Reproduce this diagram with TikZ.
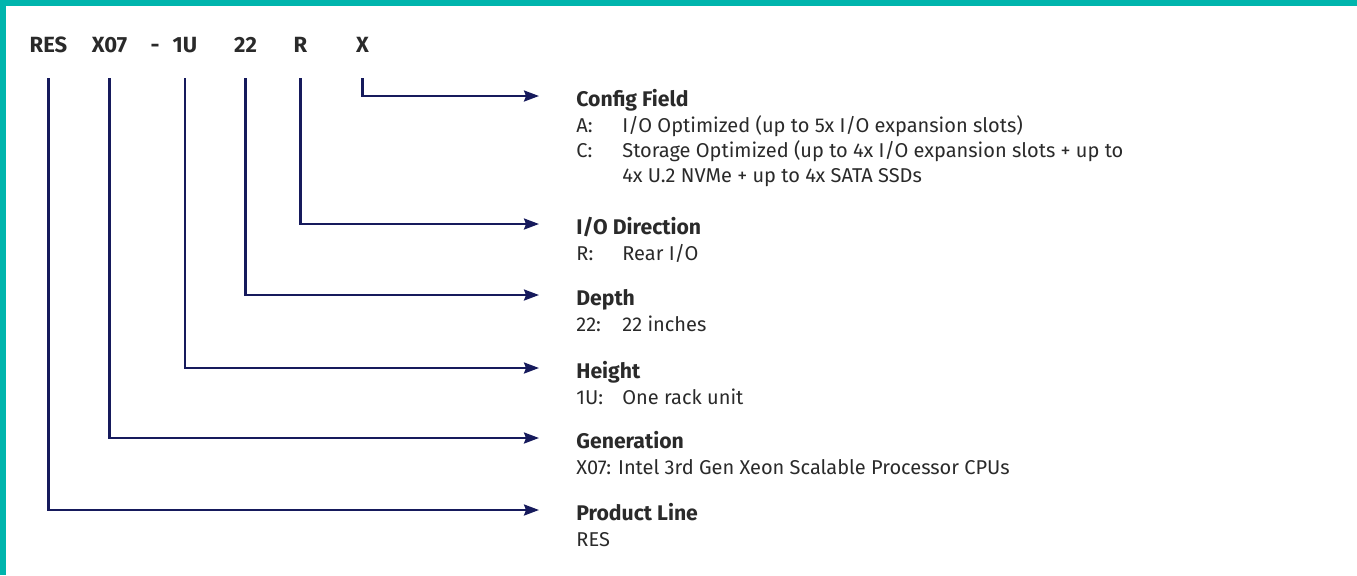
\documentclass[tikz,border=0pt]{standalone}
\usepackage{fontspec}
\setmainfont{Fira Sans}
\usetikzlibrary{arrows.meta,positioning}
\definecolor{ResTeal}{HTML}{00B5AD}
\definecolor{ResNavy}{HTML}{161A5C}
\definecolor{ResInk}{HTML}{2A2A2A}
\newcommand{\fieldkey}[1]{\makebox[23pt][l]{#1}}
\tikzset{
  codetxt/.style={font=\bfseries\fontsize{11}{12}\selectfont,text=ResInk,inner sep=0pt,anchor=base,text depth=0pt},
  headtxt/.style={font=\bfseries\fontsize{10.6}{12}\selectfont,text=ResInk,inner sep=0pt,anchor=west,text height=10pt,text depth=0pt},
  desctxt/.style={font=\fontsize{10}{12.5}\selectfont,text=ResInk,inner sep=0pt,align=left,anchor=north west},
  codearrow/.style={-{Stealth[length=7.5pt,width=5.5pt,inset=1pt]},line width=1.15pt,draw=ResNavy,shorten <=13pt,shorten >=18.5pt}
}

\begin{document}
\begin{tikzpicture}[x=0.5pt,y=-0.5pt]
\useasboundingbox (0,0) rectangle (1357,575);
\fill[ResTeal] (0,0) rectangle (1357,6);
\fill[ResTeal] (0,0) rectangle (6,575);
% part number
\node[codetxt] (res) at (48.5,52) {RES};
\node[codetxt] (gen) at (109.5,52) {X07};
\node[codetxt] (hyph) at (155,52) {-};
\node[codetxt] (hgt) at (185,52) {1U};
\node[codetxt] (dep) at (245.5,52) {22};
\node[codetxt] (dir) at (300.5,52) {R};
\node[codetxt] (cfg) at (362.5,52) {X};
% fields
\node[headtxt] (cfgHd) at (576,96) {Config Field};
\node[desctxt,below=4pt of cfgHd.south west,anchor=north west] (cfgTx) {\strut\fieldkey{A:}I/O Optimized (up to 5x I/O expansion slots)\\\fieldkey{C:}Storage Optimized (up to 4x I/O expansion slots + up to\\\fieldkey{}4x U.2 NVMe + up to 4x SATA SSDs};
\node[headtxt] (dirHd) at (576,224) {I/O Direction};
\node[desctxt,below=4pt of dirHd.south west,anchor=north west] (dirTx) {\strut\fieldkey{R:}Rear I/O};
\node[headtxt] (depHd) at (576,295) {Depth};
\node[desctxt,below=4pt of depHd.south west,anchor=north west] (depTx) {\strut\fieldkey{22:}22 inches};
\node[headtxt] (hgtHd) at (576,368) {Height};
\node[desctxt,below=4pt of hgtHd.south west,anchor=north west] (hgtTx) {\strut\fieldkey{1U:}One rack unit};
\node[headtxt] (genHd) at (576,438) {Generation};
\node[desctxt,below=4pt of genHd.south west,anchor=north west] (genTx) {\strut X07: Intel 3rd Gen Xeon Scalable Processor CPUs};
\node[headtxt] (plHd) at (576,510) {Product Line};
\node[desctxt,below=4pt of plHd.south west,anchor=north west] (plTx) {\strut RES};
% connectors
\draw[codearrow] (cfg.south) |- (cfgHd.west);
\draw[codearrow] (dir.south) |- (dirHd.west);
\draw[codearrow] (dep.south) |- (depHd.west);
\draw[codearrow] (hgt.south) |- (hgtHd.west);
\draw[codearrow] (gen.south) |- (genHd.west);
\draw[codearrow] (res.south) |- (plHd.west);
\end{tikzpicture}
\end{document}
